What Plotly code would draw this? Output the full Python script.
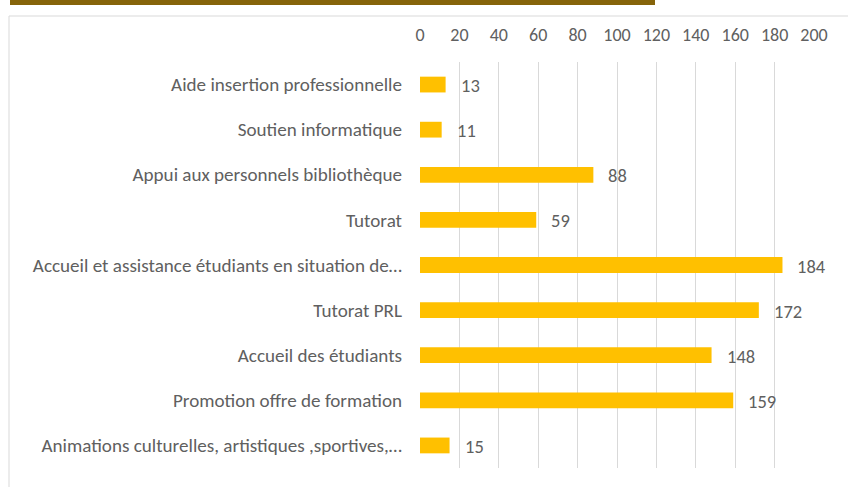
import plotly.graph_objects as go

categories = [
    "Aide insertion professionnelle",
    "Soutien informatique",
    "Appui aux personnels bibliothèque",
    "Tutorat",
    "Accueil et assistance étudiants en situation de…",
    "Tutorat PRL",
    "Accueil des étudiants",
    "Promotion offre de formation",
    "Animations culturelles, artistiques ,sportives,…",
]
values = [13, 11, 88, 59, 184, 172, 148, 159, 15]
tick_values = [0, 20, 40, 60, 80, 100, 120, 140, 160, 180, 200]

FONT = "Carlito, Calibri, 'Open Sans', sans-serif"
TXT = "#606060"

fig = go.Figure()
fig.add_trace(go.Bar(
    x=values, y=categories, orientation="h",
    marker=dict(color="#FFC000", line=dict(width=0)),
    hoverinfo="x+y",
))

for c, v in zip(categories, values):
    fig.add_annotation(x=v, y=c, text=str(v), showarrow=False,
                       xanchor="left", xshift=13, yshift=-1,
                       font=dict(family=FONT, size=18.5, color=TXT))

L, R, T, B = 420, 34, 62, 19
W, H = 848, 487
pw, ph = W - L - R, H - T - B

def px(p):
    return (p - L) / pw

def py(p):
    return (H - B - p) / ph

# outer chart border (left + top)
fig.add_shape(type="line", xref="paper", yref="paper",
              x0=px(9), x1=px(860), y0=py(16), y1=py(16),
              line=dict(color="#D9D9D9", width=1))
fig.add_shape(type="line", xref="paper", yref="paper",
              x0=px(9), x1=px(9), y0=py(16), y1=py(500),
              line=dict(color="#D9D9D9", width=1))
# brown header bar
fig.add_shape(type="rect", xref="paper", yref="paper",
              x0=px(10), x1=px(655), y0=py(-2), y1=py(5),
              fillcolor="#86640A", line=dict(width=0))

fig.update_layout(
    width=W, height=H, autosize=False,
    margin=dict(l=L, r=R, t=T, b=B, pad=0),
    paper_bgcolor="white", plot_bgcolor="white",
    bargap=0.65, showlegend=False,
    font=dict(family=FONT, color=TXT),
    xaxis=dict(side="top", range=[0, 200], tickvals=tick_values,
               showgrid=True, gridcolor="#D9D9D9", gridwidth=1,
               zeroline=False, showline=False, ticks="",
               ticklabelstandoff=16,
               tickfont=dict(family=FONT, size=18, color=TXT)),
    yaxis=dict(autorange="reversed", showgrid=False, zeroline=False,
               showline=False, ticks="", ticklabelstandoff=17,
               tickfont=dict(family=FONT, size=19.1, color=TXT)),
)

fig.write_html(
    "out.html",
    config={"displayModeBar": False},
    post_script="document.body.style.margin='0';document.body.style.overflow='hidden';",
)
